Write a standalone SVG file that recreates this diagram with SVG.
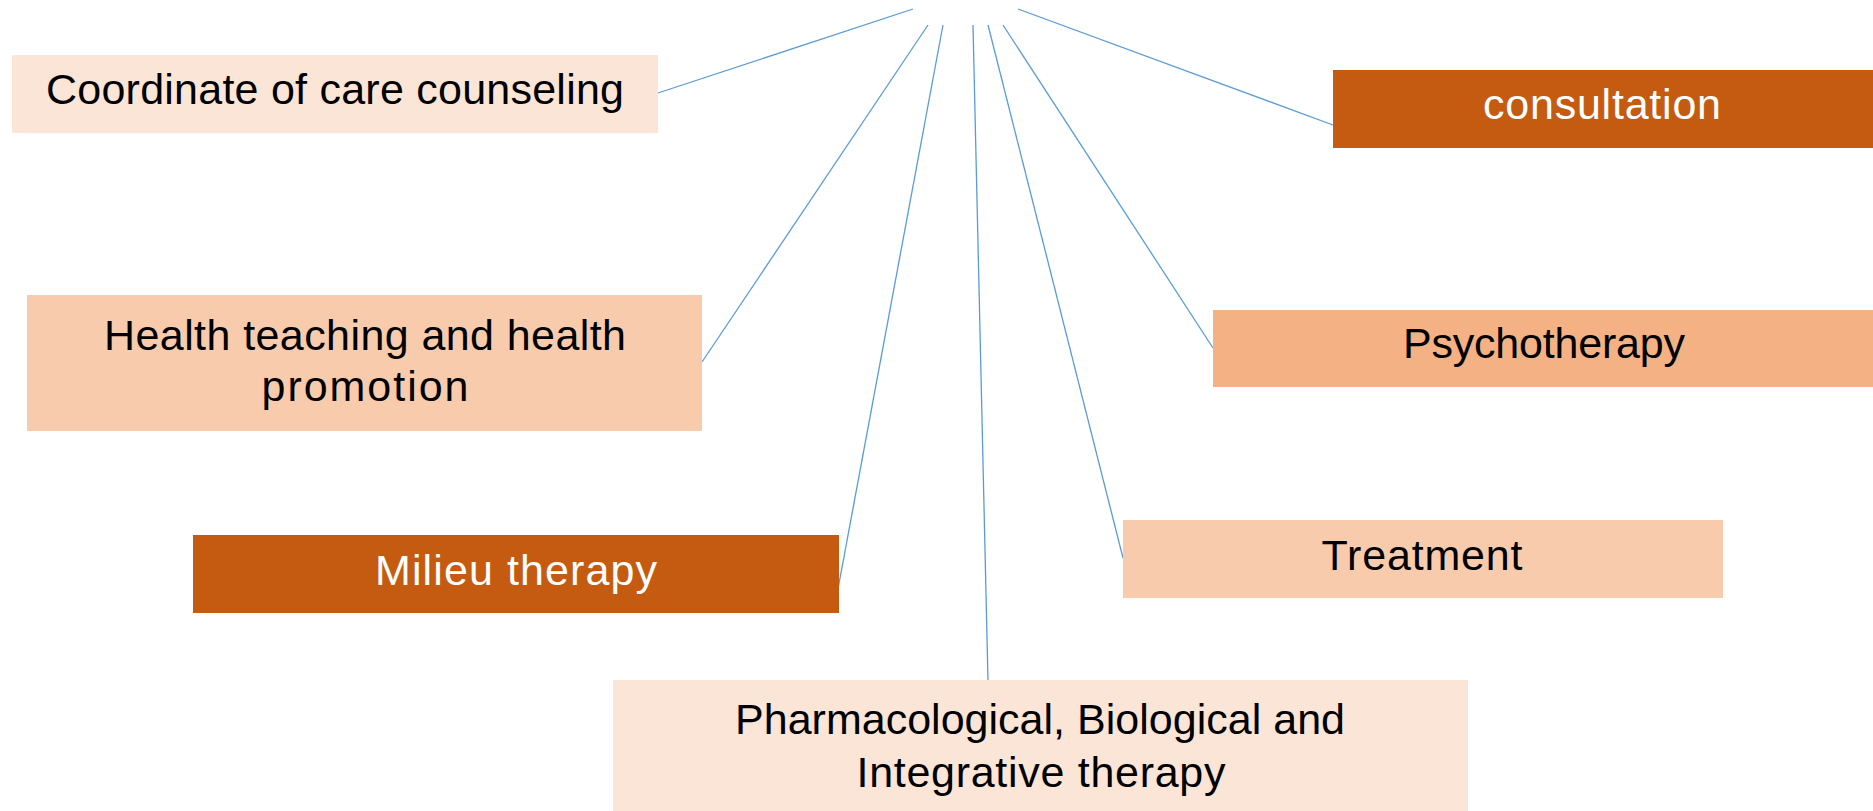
<svg xmlns="http://www.w3.org/2000/svg" width="1873" height="811" viewBox="0 0 1873 811">
  <style>
    .lbl { font-family: "Liberation Sans", Arial, sans-serif; font-size: 43px; text-anchor: middle; }
    .dark { fill: #000000; }
    .light { fill: #ffffff; }
    .pale { fill: #FBE5D6; }
    .peach { fill: #F8CBAD; }
    .apricot { fill: #F4B183; }
    .rust { fill: #C55A11; }
    .link { stroke: #5B9BD5; stroke-width: 1.3; fill: none; }
  </style>
  <rect width="1873" height="811" fill="#ffffff"/>

  <!-- spokes fanning out from the top centre -->
  <g id="connectors">
    <line class="link" x1="913" y1="9" x2="658" y2="93"/>
    <line class="link" x1="928" y1="25" x2="702" y2="362"/>
    <line class="link" x1="943" y1="25" x2="838" y2="589"/>
    <line class="link" x1="973" y1="25" x2="988" y2="681"/>
    <line class="link" x1="988" y1="25" x2="1123" y2="558"/>
    <line class="link" x1="1003" y1="25" x2="1213" y2="348"/>
    <line class="link" x1="1018" y1="9" x2="1333" y2="125"/>
  </g>

  <g id="coordinate-care">
    <rect class="pale" x="12" y="55" width="646" height="78"/>
    <text class="lbl dark" x="335" y="104" textLength="578">Coordinate of care counseling</text>
  </g>

  <g id="consultation">
    <rect class="rust" x="1333" y="70" width="540" height="78"/>
    <text class="lbl light" x="1602" y="119" textLength="238">consultation</text>
  </g>

  <g id="health-teaching">
    <rect class="peach" x="27" y="295" width="675" height="136"/>
    <text class="lbl dark" x="365" y="350" textLength="522">Health teaching and health</text>
    <text class="lbl dark" x="365" y="401" textLength="207">promotion</text>
  </g>

  <g id="psychotherapy">
    <rect class="apricot" x="1213" y="310" width="660" height="77"/>
    <text class="lbl dark" x="1544" y="358" textLength="282">Psychotherapy</text>
  </g>

  <g id="milieu-therapy">
    <rect class="rust" x="193" y="535" width="646" height="78"/>
    <text class="lbl light" x="516" y="585" textLength="282">Milieu therapy</text>
  </g>

  <g id="treatment">
    <rect class="peach" x="1123" y="520" width="600" height="78"/>
    <text class="lbl dark" x="1422" y="570" textLength="201">Treatment</text>
  </g>

  <g id="pharmacological">
    <rect class="pale" x="613" y="680" width="855" height="131"/>
    <text class="lbl dark" x="1040" y="734" textLength="610">Pharmacological, Biological and</text>
    <text class="lbl dark" x="1041" y="787" textLength="369">Integrative therapy</text>
  </g>
</svg>
